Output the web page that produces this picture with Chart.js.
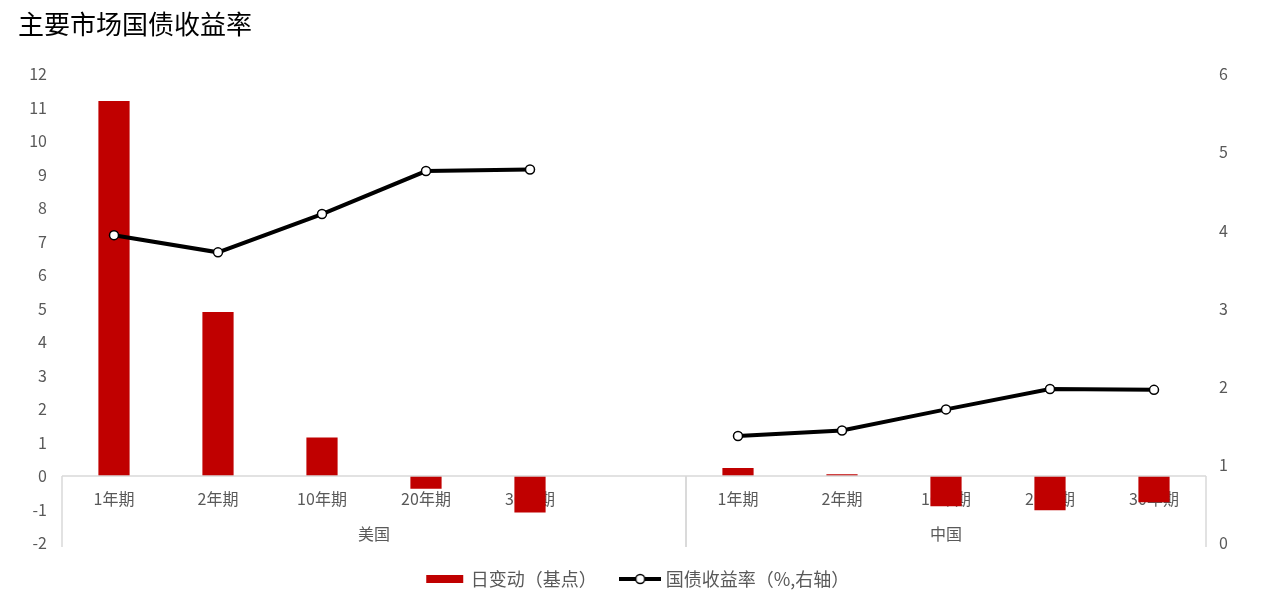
<!DOCTYPE html>
<html>
<head>
<meta charset="utf-8">
<title>主要市场国债收益率</title>
<script src="https://cdn.jsdelivr.net/npm/chart.js@4.4.0/dist/chart.umd.min.js"></script>
<style>
    html, body { margin: 0; padding: 0; background: #fff; }
    #wrap { width: 1262px; height: 616px; }
</style>
</head>
<body>
<div id="wrap"><canvas id="myChart"></canvas></div>
<script>
    /*** Datos */
    var terms = ["1年期", "2年期", "10年期", "20年期", "30年期", "", "1年期", "2年期", "10年期", "20年期", "30年期"];
    var groupNames = ["美国", "中国"];
    var groupFirst = [0, 6];   // primer índice de cada grupo
    var groupLast = [5, 10];   // último índice de cada grupo
    var dailyChange = [11.2, 4.9, 1.15, -0.38, -1.09, null, 0.24, 0.05, -0.9, -1.02, -0.78];
    var yieldRate = [3.94, 3.72, 4.21, 4.76, 4.78, null, 1.37, 1.44, 1.71, 1.97, 1.96];
    var leftMin = -2, leftMax = 12;
    var rightMin = 0, rightMax = 6;

    var gray = '#595959';
    var lineGray = '#d9d9d9';
    var fontFamily = '"Noto Sans CJK SC", "Noto Sans", sans-serif';

    // iconos de la leyenda
    function makeIcon(kind) {
        var c = document.createElement('canvas');
        c.width = 42; c.height = 12;
        var g = c.getContext('2d');
        if (kind === 'bar') {
            g.fillStyle = '#C00000';
            g.fillRect(2, 2, 37, 8);
        } else {
            g.strokeStyle = '#000';
            g.lineWidth = 4;
            g.beginPath(); g.moveTo(0, 6); g.lineTo(42, 6); g.stroke();
            g.fillStyle = '#fff';
            g.lineWidth = 1.5;
            g.beginPath(); g.arc(21, 6, 4.5, 0, Math.PI * 2); g.fill(); g.stroke();
        }
        return c;
    }
    var icons = [makeIcon('bar'), makeIcon('line')];

    /** Eje de categorías en dos niveles (términos + país) */
    var groupAxis = {
        id: 'groupAxis',
        afterLayout: function(chart) {
            // la leyenda del original está un poco a la derecha del centro
            chart.legend.left += 8;
            chart.legend.right += 8;
        },
        afterDraw: function(chart) {
            var x = chart.scales.x, y = chart.scales.y, ctx = chart.ctx;
            var y0 = y.getPixelForValue(0);
            var half = (x.getPixelForValue(1) - x.getPixelForValue(0)) / 2;
            ctx.save();
            ctx.strokeStyle = lineGray;
            ctx.lineWidth = 1.5;
            ctx.beginPath();
            ctx.moveTo(chart.chartArea.left, y0);
            ctx.lineTo(chart.chartArea.right, y0);
            ctx.stroke();
            ctx.fillStyle = gray;
            ctx.font = '16px ' + fontFamily;
            ctx.textAlign = 'center';
            ctx.textBaseline = 'middle';
            for (var i = 0; i < groupNames.length; i++) {
                var a = x.getPixelForValue(groupFirst[i]) - half;
                var b = x.getPixelForValue(groupLast[i]) + half;
                ctx.beginPath();
                ctx.moveTo(a, y0); ctx.lineTo(a, y0 + 71);
                ctx.moveTo(b, y0); ctx.lineTo(b, y0 + 71);
                ctx.stroke();
                ctx.fillText(groupNames[i], (a + b) / 2, y0 + 58);
            }
            ctx.restore();
        }
    };

    var ctx = document.getElementById("myChart").getContext('2d');
    var myChart = new Chart(ctx, {
        type: 'bar',
        data: {
            labels: terms,
            datasets: [
                {
                    type: 'bar',
                    label: '日变动（基点）',
                    data: dailyChange,
                    yAxisID: 'y',
                    backgroundColor: '#C00000',
                    categoryPercentage: 1,
                    barPercentage: 0.3,
                    order: 1
                },
                {
                    type: 'line',
                    label: '国债收益率（%,右轴）',
                    data: yieldRate,
                    yAxisID: 'y1',
                    borderColor: '#000',
                    borderWidth: 4,
                    pointRadius: 4.5,
                    pointBackgroundColor: '#fff',
                    pointBorderColor: '#000',
                    pointBorderWidth: 1.5,
                    spanGaps: false,
                    tension: 0,
                    order: 0
                }
            ]
        },
        options: {
            responsive: true,
            maintainAspectRatio: false,
            animation: false,
            layout: { padding: { left: 18, right: 18, top: 0, bottom: 18 } },
            scales: {
                x: {
                    position: { y: 0 },
                    grid: { display: false, drawTicks: false },
                    border: { display: false },
                    ticks: { color: gray, font: { size: 16, family: fontFamily }, padding: 13, maxRotation: 0, autoSkip: false }
                },
                y: {
                    position: 'left',
                    min: leftMin,
                    max: leftMax,
                    grid: { display: false, drawTicks: false },
                    border: { display: false },
                    ticks: { stepSize: 1, color: gray, font: { size: 16, family: fontFamily }, padding: 15 },
                    afterFit: function(scale) { scale.width = 44; }
                },
                y1: {
                    position: 'right',
                    min: rightMin,
                    max: rightMax,
                    grid: { display: false, drawTicks: false },
                    border: { display: false },
                    ticks: { stepSize: 1, color: gray, font: { size: 16, family: fontFamily }, padding: 13 },
                    afterFit: function(scale) { scale.width = 38; }
                }
            },
            plugins: {
                title: {
                    display: true,
                    text: '主要市场国债收益率',
                    align: 'start',
                    color: '#000',
                    font: { size: 26, family: fontFamily, weight: 'normal' },
                    padding: { top: 9, bottom: 34 }
                },
                legend: {
                    position: 'bottom',
                    labels: {
                        usePointStyle: true,
                        pointStyleWidth: 33,
                        padding: 27,
                        color: gray,
                        font: { size: 18, family: fontFamily },
                        generateLabels: function(chart) {
                            return chart.data.datasets.map(function(ds, i) {
                                return {
                                    text: ds.label,
                                    pointStyle: icons[i],
                                    fillStyle: 'transparent',
                                    strokeStyle: 'transparent',
                                    lineWidth: 0,
                                    fontColor: gray,
                                    datasetIndex: i,
                                    hidden: !chart.isDatasetVisible(i)
                                };
                            });
                        }
                    }
                },
                tooltip: { enabled: false }
            }
        },
        plugins: [groupAxis]
    });
</script>
</body>
</html>
